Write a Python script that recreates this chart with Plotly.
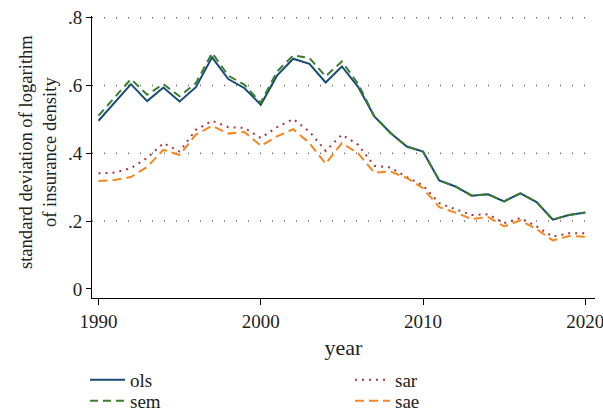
import plotly.graph_objects as go

years = list(range(1990, 2021))

ols = [0.496, 0.549, 0.604, 0.554, 0.594, 0.553, 0.595, 0.683, 0.619, 0.592,
       0.543, 0.629, 0.679, 0.664, 0.609, 0.656, 0.596, 0.509, 0.460, 0.420,
       0.405, 0.320, 0.302, 0.275, 0.279, 0.258, 0.282, 0.256, 0.204, 0.218,
       0.225]
sem = [0.511, 0.565, 0.619, 0.573, 0.604, 0.568, 0.607, 0.696, 0.629, 0.602,
       0.549, 0.641, 0.689, 0.681, 0.627, 0.671, 0.605, 0.509, 0.460, 0.420,
       0.405, 0.320, 0.302, 0.275, 0.279, 0.258, 0.282, 0.256, 0.204, 0.218,
       0.225]
sar = [0.341, 0.343, 0.356, 0.386, 0.430, 0.405, 0.469, 0.496, 0.477, 0.475,
       0.445, 0.477, 0.501, 0.464, 0.407, 0.455, 0.425, 0.363, 0.358, 0.330,
       0.305, 0.253, 0.235, 0.218, 0.220, 0.194, 0.209, 0.184, 0.154, 0.164,
       0.164]
sae = [0.318, 0.321, 0.330, 0.360, 0.410, 0.395, 0.455, 0.481, 0.458, 0.463,
       0.422, 0.450, 0.471, 0.430, 0.369, 0.430, 0.400, 0.343, 0.346, 0.327,
       0.297, 0.241, 0.225, 0.206, 0.212, 0.184, 0.202, 0.176, 0.143, 0.156,
       0.154]

x_ticks = [1990, 2000, 2010, 2020]
y_ticks = [0, 0.2, 0.4, 0.6, 0.8]
y_ticktext = ["0", ".2", ".4", ".6", ".8"]
grid_vals = [0.2, 0.4, 0.6, 0.8]

FONT = "Liberation Serif"
TEXT = "#222222"
W, H = 603, 410

# name, values, colour, dash, legend id, legend box (left px, top px)
series = [
    ("ols", ols, "#174d74", "solid", "legend", (85, 361)),
    ("sem", sem, "#3c7d2e", "8px,5px", "legend2", (85, 382)),
    ("sar", sar, "#a3383f", "2px,5px", "legend3", (350, 361)),
    ("sae", sae, "#f7861f", "9px,5px", "legend4", (350, 382)),
]

fig = go.Figure()
legends = {}
for name, vals, color, dash, leg, (lx, ly) in series:
    fig.add_trace(go.Scatter(
        x=years, y=vals, mode="lines", name=name,
        line=dict(color=color, width=2, dash=dash),
        legend=leg,
    ))
    legends[leg] = dict(
        orientation="v", xref="container", yref="container",
        x=lx / W, y=1 - ly / H, xanchor="left", yanchor="top",
        font=dict(family=FONT, size=19, color=TEXT),
        bgcolor="rgba(0,0,0,0)", itemwidth=35,
    )

for g in grid_vals:
    fig.add_shape(type="line", xref="paper", yref="y", x0=0, x1=1, y0=g, y1=g,
                  line=dict(color="#666666", width=1.5, dash="1px,11px"),
                  layer="below")

fig.add_annotation(
    text="standard deviation of logarithm<br>of insurance density",
    xref="paper", yref="paper", x=-0.107, y=0.518,
    xanchor="center", yanchor="middle", textangle=-90, showarrow=False,
    font=dict(family=FONT, size=18.6, color=TEXT), align="center",
)

fig.update_layout(
    width=W, height=H,
    margin=dict(l=92, r=8, t=16, b=112, autoexpand=False),
    plot_bgcolor="white", paper_bgcolor="white",
    font=dict(family=FONT, size=18, color=TEXT),
    showlegend=True,
    **legends,
)
fig.update_xaxes(
    range=[1989.6, 2020.6], tickvals=x_ticks, showgrid=False,
    showline=True, linecolor="black", linewidth=1,
    ticks="outside", ticklen=6, tickcolor="black",
    tickfont=dict(family=FONT, size=19, color=TEXT),
    ticklabeloverflow="allow",
    title=dict(text="year", standoff=8), zeroline=False,
)
fig.update_yaxes(
    range=[-0.027, 0.805], tickvals=y_ticks, ticktext=y_ticktext, showgrid=False,
    showline=True, linecolor="black", linewidth=1,
    ticks="outside", ticklen=5, tickcolor="black", zeroline=False,
    tickfont=dict(family=FONT, size=19, color=TEXT),
)

# the page body has a default 8px margin; drop it so the figure fills the window
fig.write_html("out.html", config={"displayModeBar": False},
               post_script="document.body.style.margin='0';")
